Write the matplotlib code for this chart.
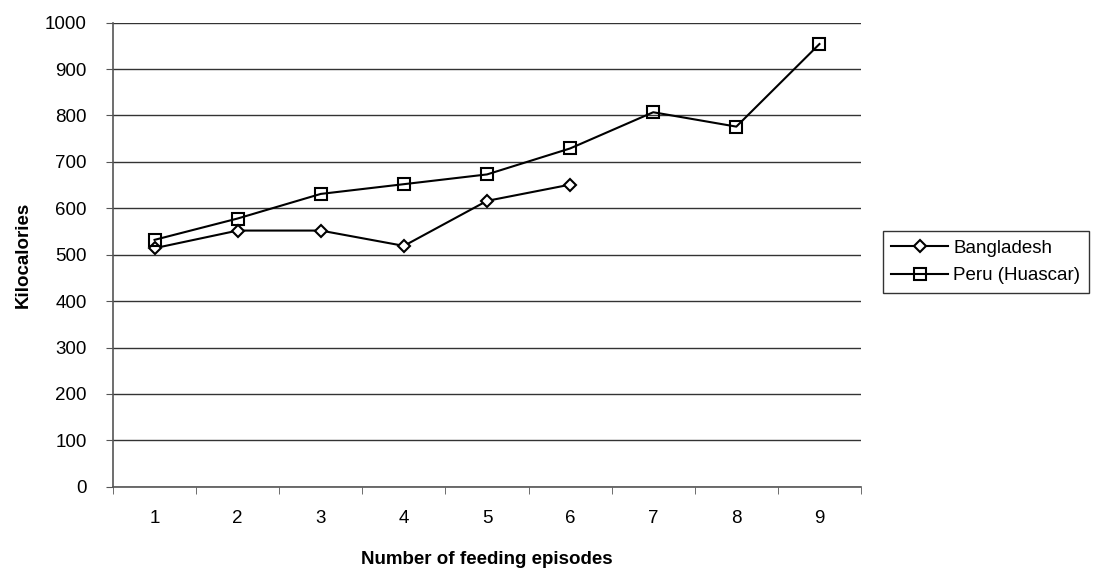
import numpy as np
import matplotlib
matplotlib.use("Agg")
import matplotlib.pyplot as plt

plt.rcParams['font.family'] = ['Liberation Sans', 'DejaVu Sans']

episodes = [1, 2, 3, 4, 5, 6, 7, 8, 9]
bangladesh = [514, 552, 552, 519, 616, 651]
peru = [532, 578, 631, 652, 673, 729, 807, 776, 954]

fig = plt.figure(figsize=(10.95, 5.73), dpi=100)
ax = fig.add_axes([0.1032, 0.1506, 0.6831, 0.8098])

ax.plot(episodes[:len(bangladesh)], bangladesh, color='black', lw=1.5,
        marker='D', markersize=6.5, markerfacecolor='white',
        markeredgecolor='black', markeredgewidth=1.5, label='Bangladesh', zorder=3)
ax.plot(episodes, peru, color='black', lw=1.5,
        marker='s', markersize=9, markerfacecolor='none',
        markeredgecolor='black', markeredgewidth=1.5, label='Peru (Huascar)', zorder=3)

ax.set_xlim(0.5, 9.5)
ax.set_ylim(0, 1000)
ax.set_yticks(np.arange(0, 1001, 100))
ax.set_xticks(episodes)
ax.set_xticks(np.arange(0.5, 9.6, 1), minor=True)
ax.tick_params(axis='x', which='major', length=0, pad=17, labelsize=13.5)
ax.tick_params(axis='x', which='minor', length=5, direction='out', color='#555555')
ax.tick_params(axis='y', length=5, direction='out', color='#555555', labelsize=13.5, pad=14)

ax.grid(axis='y', color='#333333', lw=1)
ax.set_axisbelow(True)
for s in ['top', 'right']:
    ax.spines[s].set_visible(False)
for s in ['left', 'bottom']:
    ax.spines[s].set_color('#555555')
    ax.spines[s].set_linewidth(1.2)

ax.set_xlabel('Number of feeding episodes', fontsize=13.5, fontweight='bold', labelpad=17)
ax.set_ylabel('Kilocalories', fontsize=13.5, fontweight='bold', labelpad=9)

leg = fig.legend(loc='center left', bbox_to_anchor=(883 / 1095, 1 - 262 / 573),
                 frameon=True, fancybox=False, edgecolor='black', fontsize=13.5,
                 handlelength=3.0, borderpad=0.45, labelspacing=0.55, handletextpad=0.3,
                 borderaxespad=0)
leg.get_frame().set_linewidth(1.0)

fig.savefig('out.png', dpi=100)
